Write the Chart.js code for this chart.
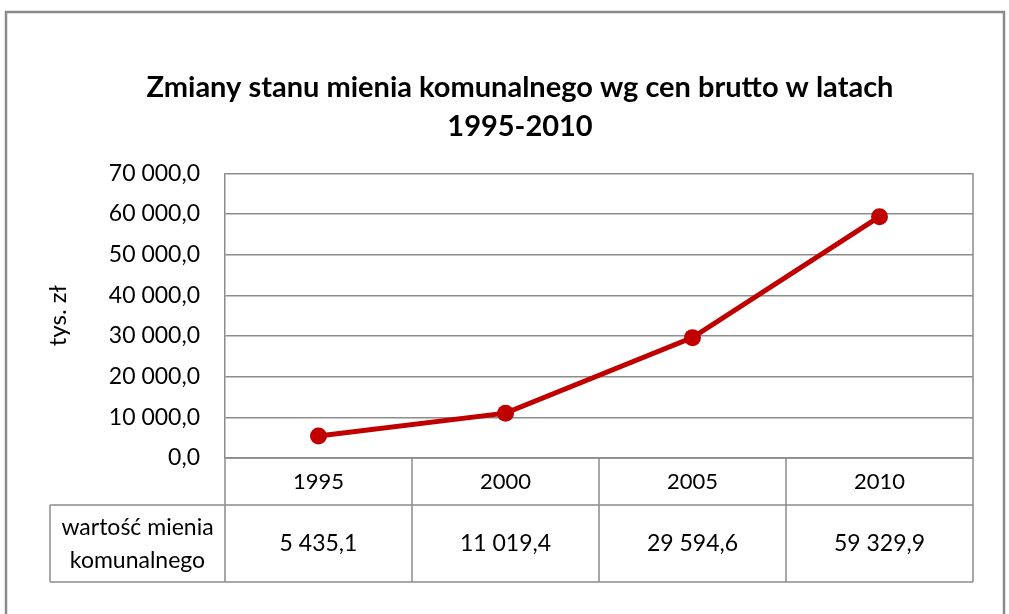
<!DOCTYPE html>
<html>
<head>
<meta charset="utf-8">
<script src="https://cdn.jsdelivr.net/npm/chart.js@4"></script>
<style>
  html, body { margin: 0; padding: 0; background: #fff; }
  #wrap { width: 1009px; height: 614px; }
</style>
</head>
<body>
<div id="wrap"><canvas id="chart" width="1009" height="614"></canvas></div>
<script>
const years = ['1995', '2000', '2005', '2010'];
const values = [5435.1, 11019.4, 29594.6, 59329.9];
const seriesName = ['wartość mienia', 'komunalnego'];
const titleLines = ['Zmiany stanu mienia komunalnego wg cen brutto w latach', '1995-2010'];
const yTitle = 'tys. zł';

const FONT = 'Lato, "Open Sans", sans-serif';
const GRID = '#8c8c8c';

// "70 000,0" style
function fmt(v) {
    const parts = Math.abs(v).toFixed(1).split('.');
    const int = parts[0].replace(/\B(?=(\d{3})+(?!\d))/g, ' ');
    return (v < 0 ? '-' : '') + int + ',' + parts[1];
}

const frameAndTable = {
    id: 'frameAndTable',
    beforeDraw(c) {
        const ctx = c.ctx;
        ctx.save();
        ctx.strokeStyle = '#8a8a8a';
        ctx.lineWidth = 2.5;
        ctx.strokeRect(6, 12, 998, 640);
        ctx.restore();
    },
    afterDraw(c) {
        const ctx = c.ctx;
        const area = c.chartArea;
        const x = c.scales.x;
        const top = area.bottom;
        const mid = top + 47;
        const bottom = top + 124;
        const labelLeft = 50;
        const n = years.length;
        const step = (area.right - area.left) / n;

        ctx.save();
        ctx.strokeStyle = GRID;
        ctx.lineWidth = 1.5;
        ctx.beginPath();
        // right border of plot
        ctx.moveTo(area.right, area.top);
        ctx.lineTo(area.right, top);
        // table rows
        ctx.moveTo(area.left, top); ctx.lineTo(area.right, top);
        ctx.moveTo(labelLeft, mid); ctx.lineTo(area.right, mid);
        ctx.moveTo(labelLeft, bottom); ctx.lineTo(area.right, bottom);
        ctx.moveTo(labelLeft, mid); ctx.lineTo(labelLeft, bottom);
        for (let i = 0; i <= n; i++) {
            const px = area.left + step * i;
            ctx.moveTo(px, top); ctx.lineTo(px, bottom);
        }
        ctx.stroke();

        ctx.fillStyle = '#000';
        ctx.textAlign = 'center';
        ctx.textBaseline = 'middle';
        ctx.font = '22px ' + FONT;
        years.forEach((y, i) => {
            const cx = x.getPixelForValue(i);
            ctx.fillText(y, cx, (top + mid) / 2);
        });
        ctx.font = '23px ' + FONT;
        years.forEach((y, i) => {
            const cx = x.getPixelForValue(i);
            ctx.fillText(fmt(values[i]), cx, (mid + bottom) / 2);
        });
        const lx = (labelLeft + area.left) / 2;
        ctx.fillText(seriesName[0], lx, (mid + bottom) / 2 - 16);
        ctx.fillText(seriesName[1], lx, (mid + bottom) / 2 + 17);
        ctx.restore();
    }
};

new Chart(document.getElementById('chart'), {
    type: 'line',
    data: {
        labels: years,
        datasets: [{
            label: seriesName.join(' '),
            data: values,
            borderColor: '#c00000',
            backgroundColor: '#c00000',
            borderWidth: 5,
            pointRadius: 8.5,
            pointBorderWidth: 0,
            tension: 0
        }]
    },
    options: {
        responsive: false,
        animation: false,
        layout: { padding: { left: 67, right: 36, bottom: 156, top: 0 } },
        plugins: {
            legend: { display: false },
            tooltip: { enabled: false },
            title: {
                display: true,
                text: titleLines,
                color: '#000',
                font: { family: FONT, size: 29, weight: 'bold', lineHeight: 1.35 },
                padding: { top: 68, bottom: 27 }
            }
        },
        scales: {
            x: {
                type: 'category',
                offset: true,
                display: false
            },
            y: {
                min: 0,
                max: 70000,
                afterFit: s => { s.width = 158; },
                ticks: {
                    stepSize: 10000,
                    padding: 25,
                    color: '#000',
                    font: { family: FONT, size: 23 },
                    callback: v => fmt(v)
                },
                grid: { color: GRID, lineWidth: 1.5, drawTicks: false },
                border: { color: GRID, width: 1.5 },
                title: {
                    display: true,
                    text: yTitle,
                    color: '#000',
                    font: { family: FONT, size: 24 },
                    padding: { top: -23, bottom: 0 }
                }
            }
        }
    },
    plugins: [frameAndTable]
});
</script>
</body>
</html>
